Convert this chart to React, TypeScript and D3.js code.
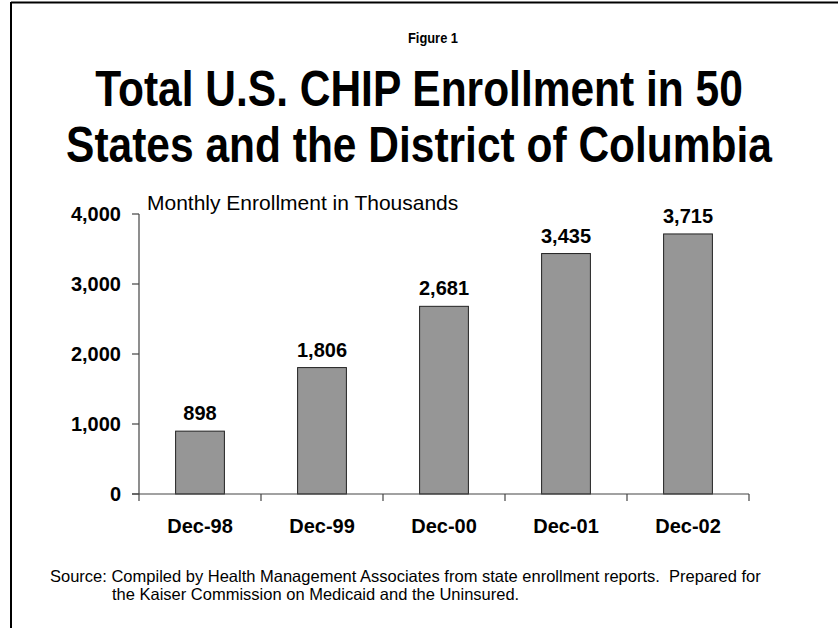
import React from "react";
import * as d3 from "d3";

const categories = ["Dec-98", "Dec-99", "Dec-00", "Dec-01", "Dec-02"];
const values = [898, 1806, 2681, 3435, 3715];
const yTicks = [0, 1000, 2000, 3000, 4000];
const titleLines = ["Total U.S. CHIP Enrollment in 50", "States and the District of Columbia"];
const sourceLines = [
  "Source: Compiled by Health Management Associates from state enrollment reports.\u00A0 Prepared for",
  "the Kaiser Commission on Medicaid and the Uninsured.",
];

export default function App() {
  const W = 838, H = 628;
  const left = 139, right = 749, top = 214, bottom = 494;
  const x = d3.scaleBand<string>().domain(categories).range([left, right]).paddingInner(0.6).paddingOuter(0.3);
  const xOuter = d3.scaleBand<string>().domain(categories).range([left, right]);
  const y = d3.scaleLinear().domain([0, 4000]).range([bottom, top]);
  const fmt = d3.format(",");
  const font = "'Liberation Sans', Arial, sans-serif";
  const cx = 419;
  return (
    <svg width={W} height={H} style={{ position: "absolute", left: 0, top: 0, background: "#fff" }} fontFamily={font}>
      <rect x={0} y={0} width={W} height={H} fill="#fff" />
      <line x1={11} y1={2.5} x2={W} y2={2.5} stroke="#000" strokeWidth={2} />
      <line x1={11} y1={2} x2={11} y2={H} stroke="#000" strokeWidth={2} />
      <text transform="translate(433,43) scale(0.92,1)" textAnchor="middle" fontSize={14} fontWeight="bold">Figure 1</text>
      {titleLines.map((t, i) => (
        <text key={i} transform={`translate(${cx},${106 + i * 56}) scale(0.85,1)`} textAnchor="middle" fontSize={50} fontWeight="bold">{t}</text>
      ))}
      <text x={147} y={210} fontSize={21}>Monthly Enrollment in Thousands</text>
      {values.map((v, i) => (
        <rect key={i} x={x(categories[i])} y={y(v)} width={x.bandwidth()} height={bottom - y(v)} fill="#969696" stroke="#222" strokeWidth={1} />
      ))}
      {values.map((v, i) => (
        <text key={"l" + i} x={(x(categories[i]) as number) + x.bandwidth() / 2} y={y(v) - 11} textAnchor="middle" fontSize={20} fontWeight="bold">{fmt(v)}</text>
      ))}
      <line x1={left} y1={top} x2={left} y2={bottom + 7} stroke="#444" strokeWidth={1.2} />
      <line x1={left - 7} y1={bottom} x2={right} y2={bottom} stroke="#444" strokeWidth={1.2} />
      {yTicks.map((t) => (
        <g key={t}>
          <line x1={left - 7} x2={left} y1={y(t)} y2={y(t)} stroke="#444" strokeWidth={1.2} />
          <text x={121} y={y(t) + 7} textAnchor="end" fontSize={20} fontWeight="bold">{fmt(t)}</text>
        </g>
      ))}
      {categories.map((c) => (
        <line key={c} x1={(xOuter(c) as number) + xOuter.bandwidth()} x2={(xOuter(c) as number) + xOuter.bandwidth()} y1={bottom} y2={bottom + 7} stroke="#444" strokeWidth={1.2} />
      ))}
      {categories.map((c) => (
        <text key={"x" + c} x={(xOuter(c) as number) + xOuter.bandwidth() / 2} y={533} textAnchor="middle" fontSize={20} fontWeight="bold">{c}</text>
      ))}
      <text x={50} y={582} fontSize={16.5}>{sourceLines[0]}</text>
      <text x={112} y={600} fontSize={16.5}>{sourceLines[1]}</text>
    </svg>
  );
}
